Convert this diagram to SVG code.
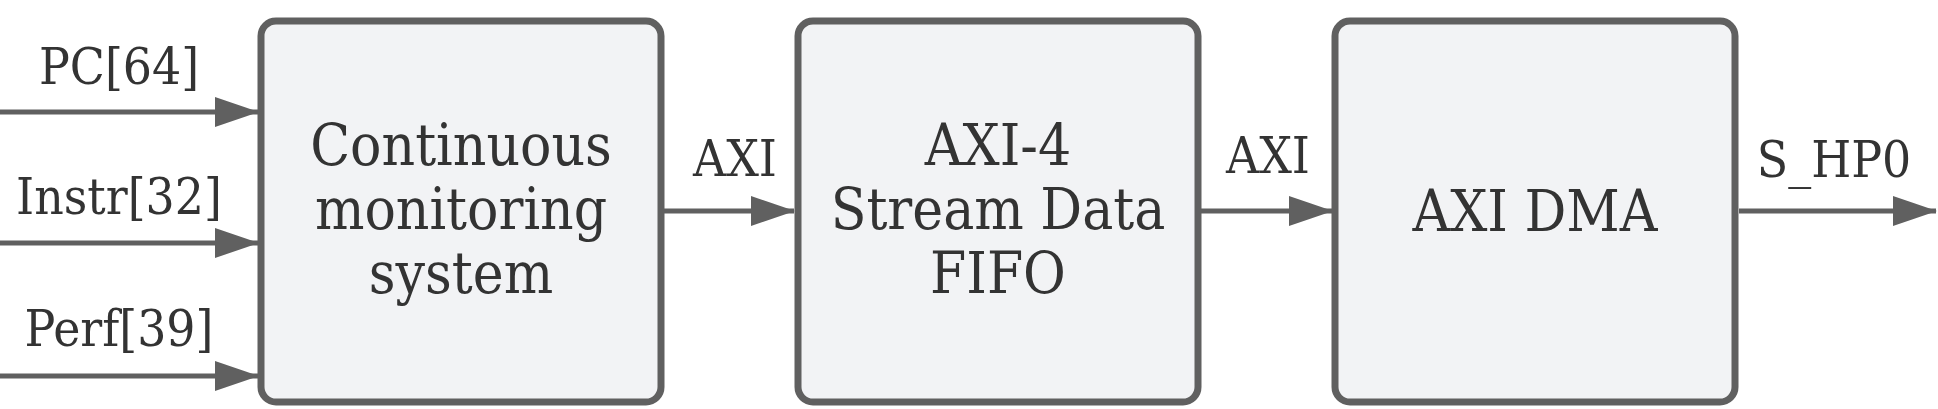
<svg xmlns="http://www.w3.org/2000/svg" width="1938" height="409" viewBox="0 0 1938 409">
<style>
.box{fill:#f2f3f5;stroke:#606060;stroke-width:7}
.lbl{font-family:"DejaVu Serif","Liberation Serif",serif;font-stretch:condensed;fill:#333;text-anchor:middle}
.node{font-size:58px}
.edge{font-size:51px}
.conn{stroke:#606060;stroke-width:5;fill:none;marker-end:url(#ah)}
</style>
<defs>
<marker id="ah" markerUnits="userSpaceOnUse" markerWidth="44" markerHeight="30" refX="43" refY="15" orient="auto">
<path d="M0,0 L44,15 L0,30 Z" fill="#606060"/>
</marker>
</defs>
<g id="connectors">
<line class="conn" x1="0" y1="112" x2="258" y2="112"/>
<line class="conn" x1="0" y1="243" x2="258" y2="243"/>
<line class="conn" x1="0" y1="376" x2="258" y2="376"/>
<line class="conn" x1="664" y1="211" x2="794" y2="211"/>
<line class="conn" x1="1201" y1="211" x2="1332" y2="211"/>
<line class="conn" x1="1739" y1="211" x2="1936" y2="211"/>
<text class="lbl edge" x="119" y="84">PC[64]</text>
<text class="lbl edge" x="119" y="214">Instr[32]</text>
<text class="lbl edge" x="119" y="346">Perf[39]</text>
<text class="lbl edge" x="735" y="176">AXI</text>
<text class="lbl edge" x="1268" y="173">AXI</text>
<text class="lbl edge" x="1834" y="177">S_HP0</text>
</g>
<g id="node1">
<rect class="box" x="261" y="21" width="400" height="381" rx="15"/>
<text class="lbl node" x="461"><tspan x="461" y="165">Continuous</tspan><tspan x="461" y="229">monitoring</tspan><tspan x="461" y="293">system</tspan></text>
</g>
<g id="node2">
<rect class="box" x="798" y="21" width="400" height="381" rx="15"/>
<text class="lbl node" x="998"><tspan x="998" y="165">AXI-4</tspan><tspan x="998" y="229">Stream Data</tspan><tspan x="998" y="293">FIFO</tspan></text>
</g>
<g id="node3">
<rect class="box" x="1335" y="21" width="400" height="381" rx="15"/>
<text class="lbl node" x="1535" y="231">AXI DMA</text>
</g>
</svg>
